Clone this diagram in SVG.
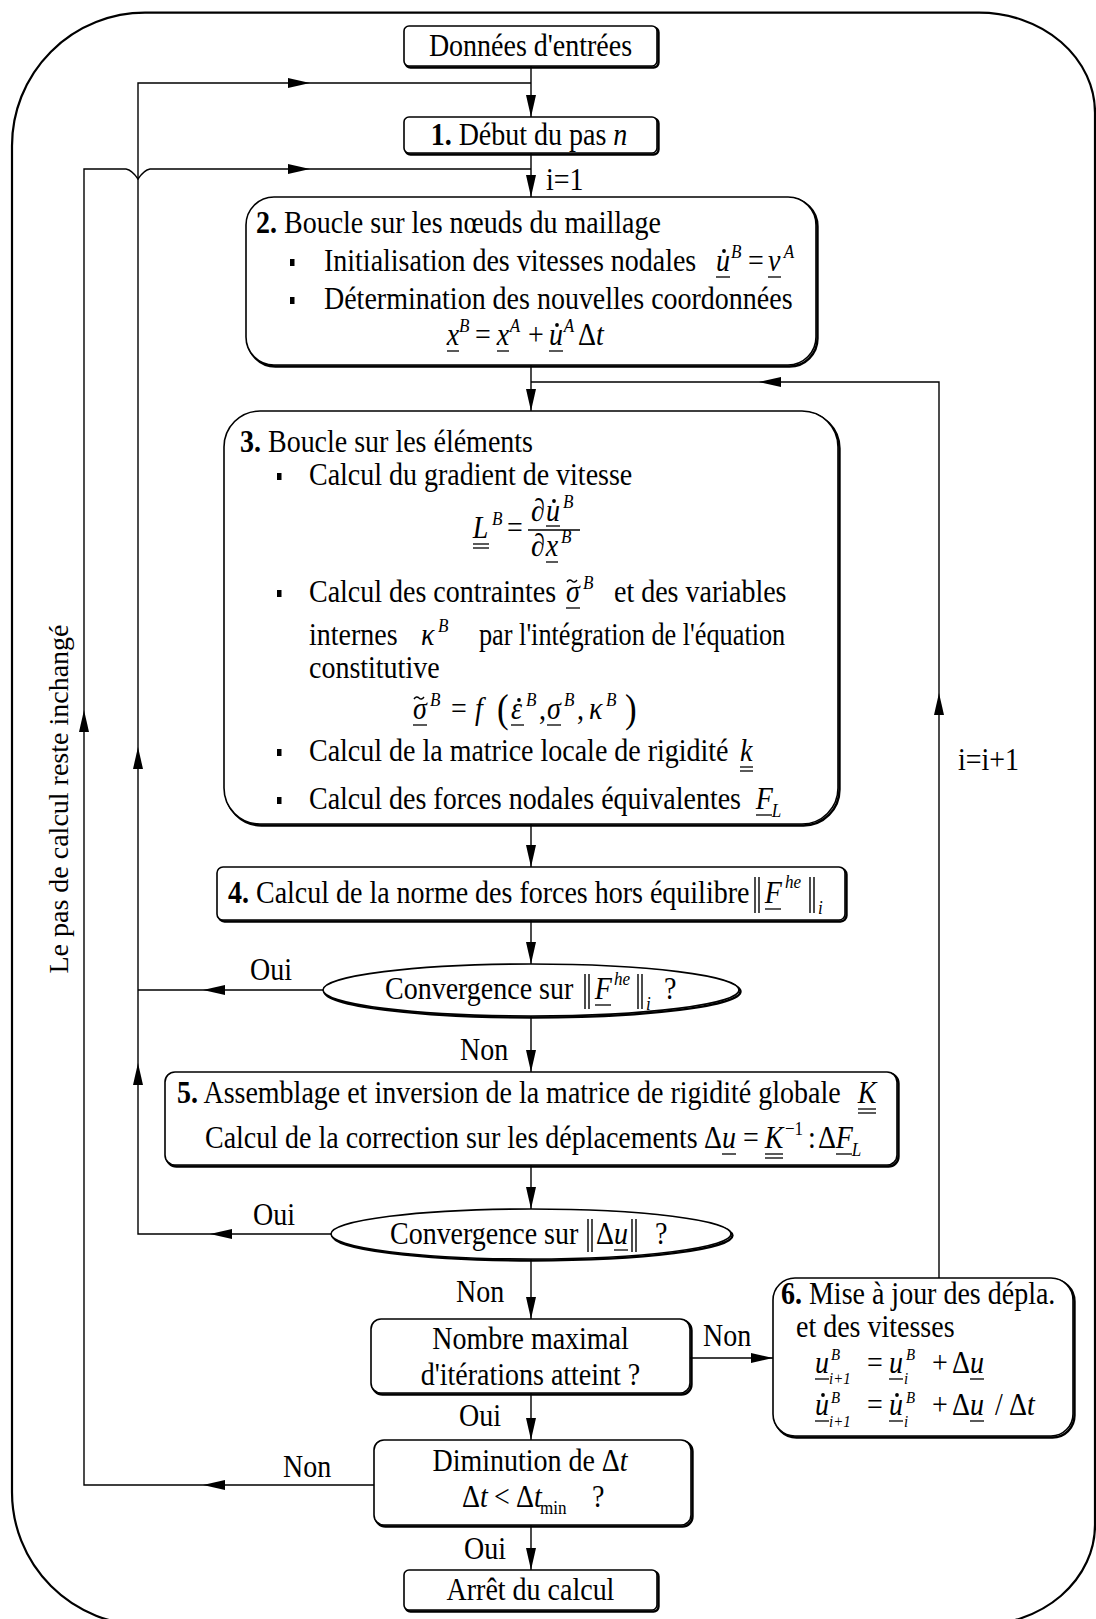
<svg xmlns="http://www.w3.org/2000/svg" xmlns:xlink="http://www.w3.org/1999/xlink" width="1096" height="1619" viewBox="0 0 1096 1619">
<style>
text{font-family:"Liberation Serif","Times New Roman",serif;font-size:32px;fill:#000;transform-box:fill-box;transform-origin:0 0;transform:scaleX(0.875)}
text.c{text-anchor:middle;transform-origin:50% 0}
text.rot{font-size:28px;transform:none;text-anchor:middle}
.b{font-weight:bold}
.i{font-style:italic}
.s{font-size:19.5px;font-style:italic}
.s2{font-size:17px;font-style:italic}
.sr{font-size:19.5px}
.bx{fill:#fff;stroke:#000;stroke-width:1.6}
.sh{fill:none;stroke:#000;stroke-width:2.4}
.ln{fill:none;stroke:#000;stroke-width:1.4}
.ul{stroke:#000;stroke-width:1.3}
.fr{fill:none;stroke:#000;stroke-width:2.2}
.bl{fill:#000}
</style>
<defs>
<path id="ah" d="M0,0 L-22,-5 L-22,5 Z" fill="#000"/>
</defs>
<rect width="1096" height="1619" fill="#fff"/>
<path class="fr" d="M145,12.7 H979 A116,100 0 0 1 1095,112.7 V1525 A116,100 0 0 1 979,1625 H145 A133,133 0 0 1 12,1492 V145.7 A133,133 0 0 1 145,12.7 Z"/>

<g id="connectors">
<path class="ln" d="M531,66 V117 M531,153 V197 M531,365 V411 M531,824 V867 M531,920 V964 M531,1016 V1072 M531,1165 V1209 M531,1259 V1319 M531,1393 V1440 M531,1525 V1570"/>
<path class="ln" d="M374,1485 H84 V169 H126 Q132,170 138,179 Q144,170 150,169 H531"/>
<path class="ln" d="M331,1234 H138 V83 H531"/>
<path class="ln" d="M323,990 H138"/>
<path class="ln" d="M939,1278 V382 H531"/>
<path class="ln" d="M690,1358 H773"/>
<use xlink:href="#ah" transform="translate(531,117) rotate(90)"/>
<use xlink:href="#ah" transform="translate(531,197) rotate(90)"/>
<use xlink:href="#ah" transform="translate(531,411) rotate(90)"/>
<use xlink:href="#ah" transform="translate(531,867) rotate(90)"/>
<use xlink:href="#ah" transform="translate(531,964) rotate(90)"/>
<use xlink:href="#ah" transform="translate(531,1072) rotate(90)"/>
<use xlink:href="#ah" transform="translate(531,1209) rotate(90)"/>
<use xlink:href="#ah" transform="translate(531,1319) rotate(90)"/>
<use xlink:href="#ah" transform="translate(531,1440) rotate(90)"/>
<use xlink:href="#ah" transform="translate(531,1570) rotate(90)"/>
<use xlink:href="#ah" transform="translate(310,83)"/>
<use xlink:href="#ah" transform="translate(310,169)"/>
<use xlink:href="#ah" transform="translate(84,710) rotate(-90)"/>
<use xlink:href="#ah" transform="translate(138,747) rotate(-90)"/>
<use xlink:href="#ah" transform="translate(138,1063) rotate(-90)"/>
<use xlink:href="#ah" transform="translate(203,990) rotate(180)"/>
<use xlink:href="#ah" transform="translate(210,1234) rotate(180)"/>
<use xlink:href="#ah" transform="translate(203,1485) rotate(180)"/>
<use xlink:href="#ah" transform="translate(759,382) rotate(180)"/>
<use xlink:href="#ah" transform="translate(939,693) rotate(-90)"/>
<use xlink:href="#ah" transform="translate(773,1358)"/>
<text x="546" y="190">i=1</text>
<text x="958" y="770">i=i+1</text>
<text x="250" y="980">Oui</text>
<text x="460" y="1060">Non</text>
<text x="253" y="1225">Oui</text>
<text x="456" y="1302">Non</text>
<text x="703" y="1346">Non</text>
<text x="459" y="1426">Oui</text>
<text x="283" y="1477">Non</text>
<text x="464" y="1559">Oui</text>
<g transform="translate(68,799) rotate(-90)"><text x="0" y="0" class="rot">Le pas de calcul reste inchangé</text></g>
</g>

<g id="n0">
<rect class="sh" x="405.5" y="27.5" width="253" height="40" rx="5"/>
<rect class="bx" x="404" y="26" width="253" height="40" rx="5"/>
<text x="530.5" y="56" class="c">Données d'entrées</text>
</g>

<g id="n1">
<rect class="sh" x="405.5" y="118.5" width="253" height="36" rx="5"/>
<rect class="bx" x="404" y="117" width="253" height="36" rx="5"/>
<text x="529" y="145" class="c"><tspan class="b">1.</tspan> Début du pas <tspan class="i">n</tspan></text>
</g>

<g id="n2">
<rect class="sh" x="247.5" y="198.5" width="570" height="168" rx="28"/>
<rect class="bx" x="246" y="197" width="570" height="168" rx="28"/>
<text x="256" y="233"><tspan class="b">2.</tspan> Boucle sur les nœuds du maillage</text>
<rect class="bl" x="290" y="259" width="4.5" height="7"/>
<text x="324" y="271">Initialisation des vitesses nodales</text>
<text x="716" y="271" class="i">u</text>
<circle cx="724" cy="251" r="1.9"/>
<line class="ul" x1="716" y1="277" x2="730" y2="277"/>
<text x="731" y="258" class="s">B</text>
<text x="748" y="271">=</text>
<text x="768" y="271" class="i">v</text>
<line class="ul" x1="768" y1="277" x2="781" y2="277"/>
<text x="784" y="258" class="s">A</text>
<rect class="bl" x="290" y="297" width="4.5" height="7"/>
<text x="324" y="309">Détermination des nouvelles coordonnées</text>
<text x="447" y="345" class="i">x</text>
<line class="ul" x1="447" y1="351" x2="459" y2="351"/>
<text x="459" y="332" class="s">B</text>
<text x="475" y="345">=</text>
<text x="497" y="345" class="i">x</text>
<line class="ul" x1="497" y1="351" x2="509" y2="351"/>
<text x="510" y="332" class="s">A</text>
<text x="528" y="345">+</text>
<text x="549" y="345" class="i">u</text>
<circle cx="557" cy="325" r="1.9"/>
<line class="ul" x1="549" y1="351" x2="563" y2="351"/>
<text x="564" y="332" class="s">A</text>
<text x="578" y="345">Δ</text>
<text x="596" y="345" class="i">t</text>
</g>

<g id="n3">
<rect class="sh" x="225.5" y="412.5" width="614" height="413" rx="36"/>
<rect class="bx" x="224" y="411" width="614" height="413" rx="36"/>
<text x="240" y="452"><tspan class="b">3.</tspan> Boucle sur les éléments</text>
<rect class="bl" x="277" y="473" width="4.5" height="7"/>
<text x="309" y="485">Calcul du gradient de vitesse</text>
<text x="473" y="538" class="i">L</text>
<line class="ul" x1="473" y1="544" x2="489" y2="544"/>
<line class="ul" x1="473" y1="548" x2="489" y2="548"/>
<text x="492" y="525" class="s">B</text>
<text x="507" y="538">=</text>
<line class="ul" x1="528" y1="530" x2="580" y2="530"/>
<text x="531" y="521">∂</text>
<text x="546" y="521" class="i">u</text>
<circle cx="554" cy="501" r="1.9"/>
<line class="ul" x1="546" y1="526" x2="560" y2="526"/>
<text x="563" y="508" class="s">B</text>
<text x="531" y="556">∂</text>
<text x="546" y="556" class="i">x</text>
<line class="ul" x1="546" y1="562" x2="558" y2="562"/>
<text x="561" y="543" class="s">B</text>
<rect class="bl" x="277" y="590" width="4.5" height="7"/>
<text x="309" y="602">Calcul des contraintes</text>
<text x="566" y="602" class="i">σ</text>
<path class="ln" d="M567,582 q2.5,-3.5 5,-1 t5,-1"/>
<line class="ul" x1="566" y1="608" x2="580" y2="608"/>
<text x="583" y="589" class="s">B</text>
<text x="614" y="602">et des variables</text>
<text x="309" y="645">internes</text>
<text x="421" y="645" class="i">κ</text>
<text x="438" y="632" class="s">B</text>
<text x="479" y="645" textLength="350" lengthAdjust="spacingAndGlyphs">par l'intégration de l'équation</text>
<text x="309" y="678">constitutive</text>
<text x="413" y="719" class="i">σ</text>
<path class="ln" d="M414,699 q2.5,-3.5 5,-1 t5,-1"/>
<line class="ul" x1="413" y1="725" x2="427" y2="725"/>
<text x="430" y="706" class="s">B</text>
<text x="451" y="719">=</text>
<text x="475" y="719" class="i">f</text>
<text x="497" y="722" style="font-size:40px">(</text>
<text x="511" y="719" class="i">ε</text>
<circle cx="519" cy="700" r="1.9"/>
<line class="ul" x1="511" y1="725" x2="524" y2="725"/>
<text x="526" y="706" class="s">B</text>
<text x="539" y="719">,</text>
<text x="547" y="719" class="i">σ</text>
<line class="ul" x1="547" y1="725" x2="561" y2="725"/>
<text x="564" y="706" class="s">B</text>
<text x="577" y="719">,</text>
<text x="589" y="719" class="i">κ</text>
<text x="606" y="706" class="s">B</text>
<text x="625" y="722" style="font-size:40px">)</text>
<rect class="bl" x="277" y="749" width="4.5" height="7"/>
<text x="309" y="761">Calcul de la matrice locale de rigidité</text>
<text x="740" y="761" class="i">k</text>
<line class="ul" x1="740" y1="767" x2="753" y2="767"/>
<line class="ul" x1="740" y1="771" x2="753" y2="771"/>
<rect class="bl" x="277" y="797" width="4.5" height="7"/>
<text x="309" y="809">Calcul des forces nodales équivalentes</text>
<text x="756" y="809" class="i">F</text>
<line class="ul" x1="756" y1="815" x2="772" y2="815"/>
<text x="772" y="817" class="s">L</text>
</g>

<g id="n4">
<rect class="sh" x="218.5" y="868.5" width="628" height="53" rx="6"/>
<rect class="bx" x="217" y="867" width="628" height="53" rx="6"/>
<text x="228" y="903"><tspan class="b">4.</tspan> Calcul de la norme des forces hors équilibre</text>
<path class="ln" d="M755,877 V913 M759,877 V913 M810,877 V913 M814,877 V913"/>
<text x="765" y="903" class="i">F</text>
<line class="ul" x1="765" y1="909" x2="781" y2="909"/>
<text x="785" y="888" class="s">he</text>
<text x="818" y="914" class="s">i</text>
</g>

<g id="n5">
<ellipse class="sh" cx="532.5" cy="991.5" rx="208" ry="26"/>
<ellipse class="bx" cx="531" cy="990" rx="208" ry="26"/>
<text x="385" y="999">Convergence sur</text>
<path class="ln" d="M585,974 V1009 M589,974 V1009 M638,974 V1009 M642,974 V1009"/>
<text x="595" y="999" class="i">F</text>
<line class="ul" x1="595" y1="1005" x2="611" y2="1005"/>
<text x="614" y="985" class="s">he</text>
<text x="646" y="1010" class="s">i</text>
<text x="664" y="999">?</text>
</g>

<g id="n6">
<rect class="sh" x="166.5" y="1073.5" width="732" height="93" rx="10"/>
<rect class="bx" x="165" y="1072" width="732" height="93" rx="10"/>
<text x="177" y="1103"><tspan class="b">5.</tspan> Assemblage et inversion de la matrice de rigidité globale</text>
<text x="858" y="1103" class="i">K</text>
<line class="ul" x1="858" y1="1109" x2="876" y2="1109"/>
<line class="ul" x1="858" y1="1113" x2="876" y2="1113"/>
<text x="205" y="1148">Calcul de la correction sur les déplacements</text>
<text x="704" y="1148">Δ</text>
<text x="722" y="1148" class="i">u</text>
<line class="ul" x1="722" y1="1154" x2="736" y2="1154"/>
<text x="743" y="1148">=</text>
<text x="765" y="1148" class="i">K</text>
<line class="ul" x1="765" y1="1154" x2="783" y2="1154"/>
<line class="ul" x1="765" y1="1158" x2="783" y2="1158"/>
<text x="785" y="1135" class="sr">−1</text>
<text x="808" y="1148">:</text>
<text x="818" y="1148">Δ</text>
<text x="836" y="1148" class="i">F</text>
<line class="ul" x1="836" y1="1154" x2="852" y2="1154"/>
<text x="852" y="1156" class="s">L</text>
</g>

<g id="n7">
<ellipse class="sh" cx="532.5" cy="1235.5" rx="200" ry="25"/>
<ellipse class="bx" cx="531" cy="1234" rx="200" ry="25"/>
<text x="390" y="1244">Convergence sur</text>
<path class="ln" d="M588,1219 V1252 M592,1219 V1252 M632,1219 V1252 M636,1219 V1252"/>
<text x="596" y="1244">Δ</text>
<text x="614" y="1244" class="i">u</text>
<line class="ul" x1="614" y1="1250" x2="628" y2="1250"/>
<text x="655" y="1244">?</text>
</g>

<g id="n8">
<rect class="sh" x="372.5" y="1320.5" width="319" height="74" rx="10"/>
<rect class="bx" x="371" y="1319" width="319" height="74" rx="10"/>
<text x="530.5" y="1349" class="c">Nombre maximal</text>
<text x="530.5" y="1385" class="c">d'itérations atteint ?</text>
</g>

<g id="n9">
<rect class="sh" x="774.5" y="1279.5" width="300" height="158" rx="22"/>
<rect class="bx" x="773" y="1278" width="300" height="158" rx="22"/>
<text x="781" y="1304"><tspan class="b">6.</tspan> Mise à jour des dépla.</text>
<text x="796" y="1337">et des vitesses</text>
<text x="815" y="1373" class="i">u</text>
<line class="ul" x1="815" y1="1379" x2="829" y2="1379"/>
<text x="831" y="1360" class="s2">B</text>
<text x="829" y="1384" class="s2">i+1</text>
<text x="867" y="1373">=</text>
<text x="889" y="1373" class="i">u</text>
<line class="ul" x1="889" y1="1379" x2="903" y2="1379"/>
<text x="906" y="1360" class="s2">B</text>
<text x="904" y="1384" class="s2">i</text>
<text x="932" y="1373">+</text>
<text x="952" y="1373">Δ</text>
<text x="970" y="1373" class="i">u</text>
<line class="ul" x1="970" y1="1379" x2="984" y2="1379"/>
<text x="815" y="1415" class="i">u</text>
<circle cx="823" cy="1395" r="1.9"/>
<line class="ul" x1="815" y1="1421" x2="829" y2="1421"/>
<text x="831" y="1403" class="s2">B</text>
<text x="829" y="1427" class="s2">i+1</text>
<text x="867" y="1415">=</text>
<text x="889" y="1415" class="i">u</text>
<circle cx="897" cy="1395" r="1.9"/>
<line class="ul" x1="889" y1="1421" x2="903" y2="1421"/>
<text x="906" y="1403" class="s2">B</text>
<text x="904" y="1427" class="s2">i</text>
<text x="932" y="1415">+</text>
<text x="952" y="1415">Δ</text>
<text x="970" y="1415" class="i">u</text>
<line class="ul" x1="970" y1="1421" x2="984" y2="1421"/>
<text x="995" y="1415">/</text>
<text x="1009" y="1415">Δ</text>
<text x="1027" y="1415" class="i">t</text>
</g>

<g id="n10">
<rect class="sh" x="375.5" y="1441.5" width="317" height="85" rx="10"/>
<rect class="bx" x="374" y="1440" width="317" height="85" rx="10"/>
<text x="530" y="1471" class="c">Diminution de Δ<tspan class="i">t</tspan></text>
<text x="462" y="1507">Δ<tspan class="i">t</tspan></text>
<text x="494" y="1507">&lt;</text>
<text x="516" y="1507">Δ<tspan class="i">t</tspan></text>
<text x="540" y="1514" class="sr">min</text>
<text x="592" y="1507">?</text>
</g>

<g id="n11">
<rect class="sh" x="405.5" y="1571.5" width="253" height="40" rx="5"/>
<rect class="bx" x="404" y="1570" width="253" height="40" rx="5"/>
<text x="530.5" y="1600" class="c">Arrêt du calcul</text>
</g>
</svg>
